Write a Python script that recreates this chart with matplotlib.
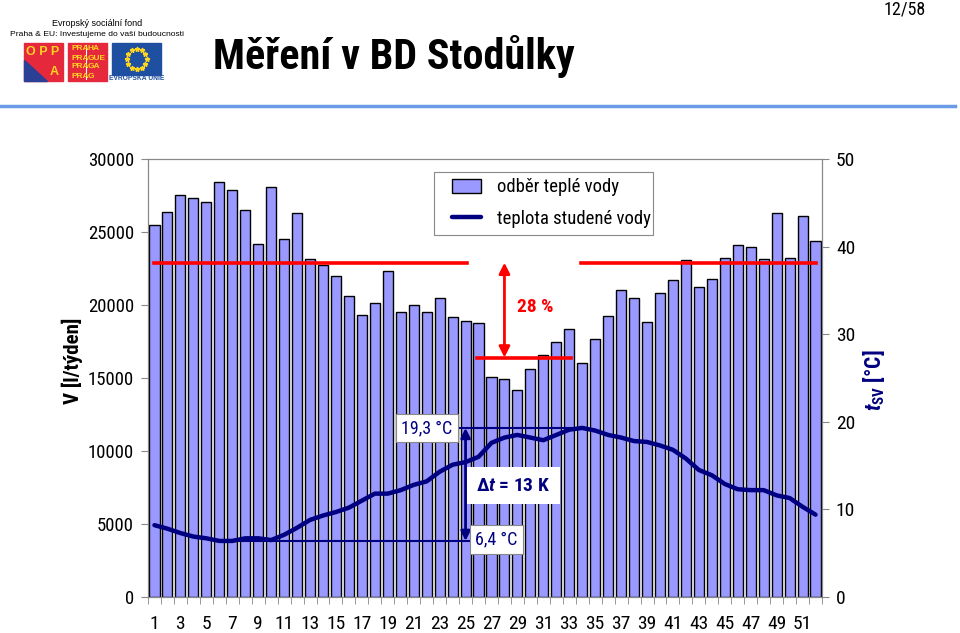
import matplotlib
matplotlib.use('Agg')
import matplotlib.pyplot as plt
from matplotlib.patches import Rectangle, Polygon
from matplotlib.lines import Line2D
import numpy as np

plt.rcParams['font.family'] = ['Roboto Condensed', 'Liberation Sans', 'DejaVu Sans']
plt.rcParams['mathtext.fontset'] = 'custom'
plt.rcParams['mathtext.rm'] = 'Roboto Condensed:bold'
plt.rcParams['mathtext.bf'] = 'Roboto Condensed:bold'
plt.rcParams['mathtext.it'] = 'Roboto Condensed:italic:bold'

weeks = list(range(1, 53))

# odber teple vody [l/tyden]
odber = [25500, 26350, 27500, 27350, 27050, 28400, 27850, 26500, 24200, 28100,
         24550, 26300, 23150, 22750, 22000, 20650, 19300, 20150, 22300, 19500,
         20000, 19550, 20450, 19200, 18900, 18750, 15050, 14900, 14200, 15600,
         16600, 17450, 18350, 16000, 17700, 19250, 21050, 20500, 18850, 20850,
         21700, 23100, 21200, 21750, 23250, 24100, 23950, 23150, 26300, 23200,
         26100, 24350]

# teplota studene vody [°C]
teplota = [8.2, 7.8, 7.3, 6.9, 6.7, 6.4, 6.4, 6.7, 6.7, 6.5,
           7.1, 7.9, 8.8, 9.3, 9.7, 10.2, 11.0, 11.8, 11.8, 12.2,
           12.8, 13.2, 14.3, 15.1, 15.4, 16.0, 17.6, 18.2, 18.5, 18.2,
           17.9, 18.5, 19.1, 19.3, 19.0, 18.5, 18.2, 17.8, 17.7, 17.3,
           16.8, 15.8, 14.5, 13.9, 12.9, 12.3, 12.2, 12.2, 11.6, 11.3,
           10.3, 9.4]

# prumerny odber mimo leto / v lete
avg_mimo = 22900
avg_leto = 16400
t_max = 19.3
t_min = 6.4

W, H = 960, 633
arial = ['Liberation Sans', 'DejaVu Sans']


def fx(px):
    return px / W


def fy(py):
    return 1 - py / H


fig = plt.figure(figsize=(9.6, 6.33), dpi=100)

# ---- header ----
fig.add_artist(Line2D([0, fx(955)], [fy(106), fy(106)], color='#6a9be6', lw=2.5))
fig.text(fx(213), fy(57), 'Měření v BD Stodůlky', fontsize=30.3, fontweight='bold',
         va='center', ha='left')
fig.text(fx(905), fy(9), '12/58', fontsize=13, va='center', ha='center')

fig.text(fx(97), fy(23), 'Evropský sociální fond', fontsize=6.5, ha='center', va='center',
         family=arial)
fig.text(fx(97), fy(34), 'Praha & EU: Investujeme do vaší budoucnosti', fontsize=6.1,
         ha='center', va='center', family=arial)

red = '#e5283c'
yel = '#ffd520'
fig.add_artist(Rectangle((fx(24), fy(81)), fx(39), 38 / H, color=red))
fig.add_artist(Polygon([(fx(24), fy(60)), (fx(24), fy(81)), (fx(47), fy(81))], color='#2b3f95'))
fig.text(fx(43), fy(52), 'O P P', fontsize=9, color=yel, ha='center', va='center',
         fontweight='bold', family=arial)
fig.text(fx(54), fy(72), 'A', fontsize=9, color=yel, ha='center', va='center',
         fontweight='bold', family=arial)
fig.add_artist(Rectangle((fx(68), fy(81)), fx(39), 38 / H, color=red))
fig.add_artist(Line2D([fx(86), fx(86)], [fy(45), fy(79)], color='white', lw=0.8))
for i, (a, b) in enumerate([('PRA', 'HA'), ('PRA', 'GUE'), ('PRA', 'GA'), ('PRA', 'G')]):
    yy = fy(49 + i * 9)
    fig.text(fx(71), yy, a, fontsize=6, color=yel, ha='left', va='center',
             fontweight='bold', family=arial)
    fig.text(fx(88), yy, b, fontsize=6, color=yel, ha='left', va='center',
             fontweight='bold', family=arial)
fig.add_artist(Rectangle((fx(112), fy(75)), fx(49), 32 / H, color='#1f4fa0'))
ang = np.linspace(0, 2 * np.pi, 13)[:-1]
fig.add_artist(Line2D(fx(136.5 + 10 * np.cos(ang)), fy(59 + 10 * np.sin(ang)),
                      ls='none', marker='*', ms=3.5, color=yel, mec=yel))
fig.text(fx(136.5), fy(79), 'EVROPSKÁ UNIE', fontsize=4.8, color='#1f4fa0', ha='center',
         va='center', fontweight='bold', family=arial)

# ---- chart ----
ax = fig.add_axes([fx(148), fy(597), (822 - 148) / W, (597 - 159) / H])
bars = ax.bar(weeks, odber, width=0.78, color='#9999ff', edgecolor='black', lw=1.0,
              zorder=2, label='odběr teplé vody')
ax.set_xlim(0.5, 52.5)
ax.set_ylim(0, 30000)
ax.set_yticks(range(0, 30001, 5000))
ax.set_xticks(range(1, 53, 2))
ax.set_xticks(np.arange(0.5, 53, 1), minor=True)
ax.tick_params(axis='x', which='major', length=0, pad=13, labelsize=14)
ax.tick_params(axis='x', which='minor', length=5, color='#888888', direction='out')
ax.tick_params(axis='y', length=5, color='#888888', direction='out', labelsize=13.5, pad=5)
for s in ax.spines.values():
    s.set_color('#888888')

ax2 = ax.twinx()
line, = ax2.plot(weeks, teplota, color='#000080', lw=3.2, solid_joinstyle='round',
                 solid_capstyle='round', zorder=3, label='teplota studené vody')
ax2.set_ylim(0, 50)
ax2.set_yticks(range(0, 51, 10))
ax2.tick_params(axis='y', length=5, color='#888888', direction='out', labelsize=14, pad=5)
for s in ax2.spines.values():
    s.set_color('#888888')

ax.set_ylabel('V [l/týden]', fontsize=15, fontweight='bold')
ax.yaxis.set_label_coords(-0.096, 0.54)
ax2.set_ylabel(r'$t_{\rm SV}$ [°C]', fontsize=15.5, fontweight='bold', color='#000080')
ax2.yaxis.set_label_coords(1.058, 0.495)

# red lines - prumerny odber
ax.plot([1.0, 25.1], [avg_mimo, avg_mimo], color='#ff0000', lw=2.6, zorder=4)
ax.plot([33.9, 52.0], [avg_mimo, avg_mimo], color='#ff0000', lw=2.6, zorder=4)
ax.plot([25.9, 33.1], [avg_leto, avg_leto], color='#ff0000', lw=2.6, zorder=4)
ax.annotate('', xy=(28.0, avg_leto), xytext=(28.0, avg_mimo),
            arrowprops=dict(arrowstyle='<|-|>', color='#ff0000', lw=2, mutation_scale=16,
                            shrinkA=0, shrinkB=0), zorder=4)
ax.text(30.4, 19850, '%d %%' % round((1 - avg_leto / avg_mimo) * 100), color='#ff0000',
        fontsize=14, fontweight='bold', ha='center', va='center', zorder=4)

# temperature annotation
navy = '#000080'
ax2.plot([24.2, 33.9], [t_max, t_max], color=navy, lw=1.5, zorder=4)
ax2.plot([6.7, 25.7], [t_min, t_min], color=navy, lw=1.5, zorder=4)
ax2.annotate('', xy=(25.0, t_min), xytext=(25.0, t_max),
             arrowprops=dict(arrowstyle='<|-|>', color=navy, lw=2, mutation_scale=14,
                             shrinkA=0, shrinkB=0), zorder=5)
box = dict(boxstyle='square,pad=0.3', fc='white', ec='#888888', lw=0.8)
ax2.text(22.0, t_max, ('%.1f °C' % t_max).replace('.', ','), fontsize=13, color=navy,
         ha='center', va='center', bbox=box, zorder=6)
ax2.text(27.4, 6.6, ('%.1f °C' % t_min).replace('.', ','), fontsize=13, color=navy,
         ha='center', va='center', bbox=box, zorder=6)
ax2.text(28.7, 12.7, r'$\Delta t$ = %d K' % round(t_max - t_min), fontsize=14,
         fontweight='bold', color=navy, ha='center', va='center',
         bbox=dict(boxstyle='square,pad=0.5', fc='white', ec='none'), zorder=6)

# legend: frame drawn separately so the inner padding can match
ax2.add_artist(Rectangle((fx(434), fy(235)), (653 - 434) / W, (235 - 172) / H,
                         transform=fig.transFigure, fc='white', ec='#888888', lw=0.8,
                         zorder=7, clip_on=False))
leg = ax2.legend(handles=[bars, line], loc='upper left', bbox_to_anchor=(fx(452), fy(178.5)),
                 bbox_transform=fig.transFigure, fontsize=13.5, frameon=False,
                 handlelength=1.55, handleheight=0.7, handletextpad=0.85,
                 labelspacing=0.72, borderpad=0, borderaxespad=0)
leg.set_zorder(8)

fig.savefig('out.png', dpi=100)
